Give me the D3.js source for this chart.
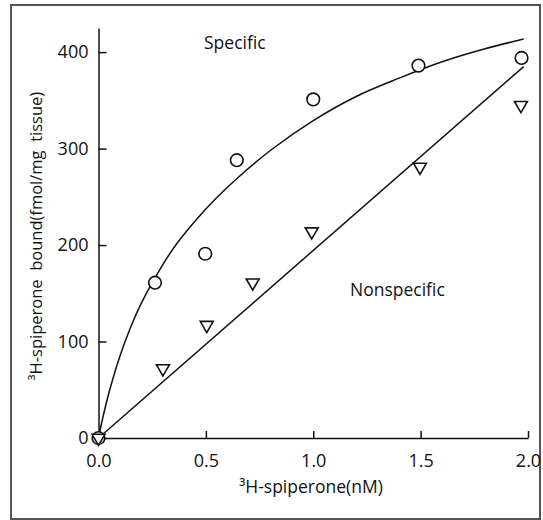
<!DOCTYPE html>
<html>
<head>
<meta charset="utf-8">
<script src="https://cdnjs.cloudflare.com/ajax/libs/d3/7.8.5/d3.min.js"></script>
<style>
  body { margin: 0; background: #fff; }
  text { font-family: "Open Sans", "DejaVu Sans", sans-serif; fill: #111; white-space: pre; }
  .tick text { font-size: 18px; }
  .label { font-size: 17.5px; }
  .ylabel { font-size: 16.5px; }
</style>
</head>
<body>
<div class="svg-container"></div>
<script>
var width = 543;
var height = 520;

// specific binding (circles) and nonspecific binding (triangles)
var specificX = [0, 0.263, 0.497, 0.644, 1.0, 1.49, 1.97];
var specificY = [0, 161, 191, 288, 351, 386, 394];
var nonspecificX = [0, 0.30, 0.504, 0.718, 0.993, 1.497, 1.967];
var nonspecificY = [0, 72, 117, 161, 214, 281, 345];

// hand-drawn fitted curves
var specificFitX = [0, 0.02, 0.05, 0.1, 0.15, 0.2, 0.263, 0.35, 0.45, 0.55, 0.65, 0.8, 1.0, 1.2, 1.4, 1.6, 1.8, 1.98];
var specificFitY = [0, 21, 48, 85, 115, 140, 166, 197, 225, 249, 270, 298, 329, 354, 373, 390, 403.5, 413.5];
var nonspecificFitX = [0, 1.98];
var nonspecificFitY = [0, 385];

var xTicks = [0, 0.5, 1.0, 1.5, 2.0];
var yTicks = [0, 100, 200, 300, 400];

var svg = d3.select(".svg-container")
              .append("svg")
              .attr("width", width)
              .attr("height", height);

// outer frame
svg.append("rect")
    .attr("x", 11)
    .attr("y", 5)
    .attr("width", 529)
    .attr("height", 514)
    .attr("fill", "none")
    .attr("stroke", "#555")
    .attr("stroke-width", 2);

var scaleX = d3.scaleLinear().domain([0, 2]).range([98.5, 528]);
var scaleY = d3.scaleLinear().domain([0, 425]).range([438, 28]);

// axes, ticks pointing inward
svg.append("g")
    .attr("class", "xAxis")
    .attr("transform", "translate(0,438)")
    .call(d3.axisBottom(scaleX)
            .tickValues(xTicks)
            .tickFormat(d3.format(".1f"))
            .tickSizeInner(-7)
            .tickSizeOuter(0)
            .tickPadding(16));

svg.append("g")
    .attr("class", "yAxis")
    .attr("transform", "translate(98.5,0)")
    .call(d3.axisLeft(scaleY)
            .tickValues(yTicks)
            .tickSizeInner(-8)
            .tickSizeOuter(0)
            .tickPadding(10));

svg.selectAll(".domain, .tick line")
    .attr("stroke", "#111")
    .attr("stroke-width", 1.5);
svg.selectAll(".tick text").attr("fill", "#111");

function zip(xs, ys) {
  return xs.map(function(x, i) { return [x, ys[i]]; });
}

function drawLine(points, curve) {
  var line = d3.line()
                .x(function(d) { return scaleX(d[0]) })
                .y(function(d) { return scaleY(d[1]) })
                .curve(curve);
  svg.append("path")
      .datum(points)
      .attr("fill", "none")
      .attr("stroke", "#111")
      .attr("stroke-width", 1.5)
      .attr("d", line);
}

drawLine(zip(specificFitX, specificFitY), d3.curveCatmullRom.alpha(0.5));
drawLine(zip(nonspecificFitX, nonspecificFitY), d3.curveLinear);

// circles
svg.selectAll("circle.specific")
    .data(zip(specificX, specificY))
    .enter()
    .append("circle")
    .attr("class", "specific")
    .attr("cx", function(d) { return scaleX(d[0]) })
    .attr("cy", function(d) { return scaleY(d[1]) })
    .attr("r", 6.3)
    .attr("fill", "#fff")
    .attr("stroke", "#111")
    .attr("stroke-width", 1.6);

// down-pointing triangles
svg.selectAll("path.nonspecific")
    .data(zip(nonspecificX, nonspecificY))
    .enter()
    .append("path")
    .attr("class", "nonspecific")
    .attr("d", d3.symbol(d3.symbolTriangle, 72))
    .attr("transform", function(d) {
      return "translate(" + scaleX(d[0]) + "," + scaleY(d[1]) + ") rotate(180)";
    })
    .attr("fill", "#fff")
    .attr("stroke", "#111")
    .attr("stroke-width", 1.6);

// labels
svg.append("text")
    .attr("class", "label")
    .attr("x", 204)
    .attr("y", 49)
    .text("Specific");

svg.append("text")
    .attr("class", "label")
    .attr("x", 350)
    .attr("y", 296)
    .text("Nonspecific");

svg.append("text")
    .attr("class", "label")
    .attr("x", 311)
    .attr("y", 493)
    .attr("text-anchor", "middle")
    .text("³H-spiperone(nM)");

svg.append("text")
    .attr("class", "ylabel")
    .attr("transform", "rotate(270)")
    .attr("x", -236)
    .attr("y", 42)
    .attr("text-anchor", "middle")
    .text("³H-spiperone  bound(fmol/mg  tissue)");
</script>
</body>
</html>
